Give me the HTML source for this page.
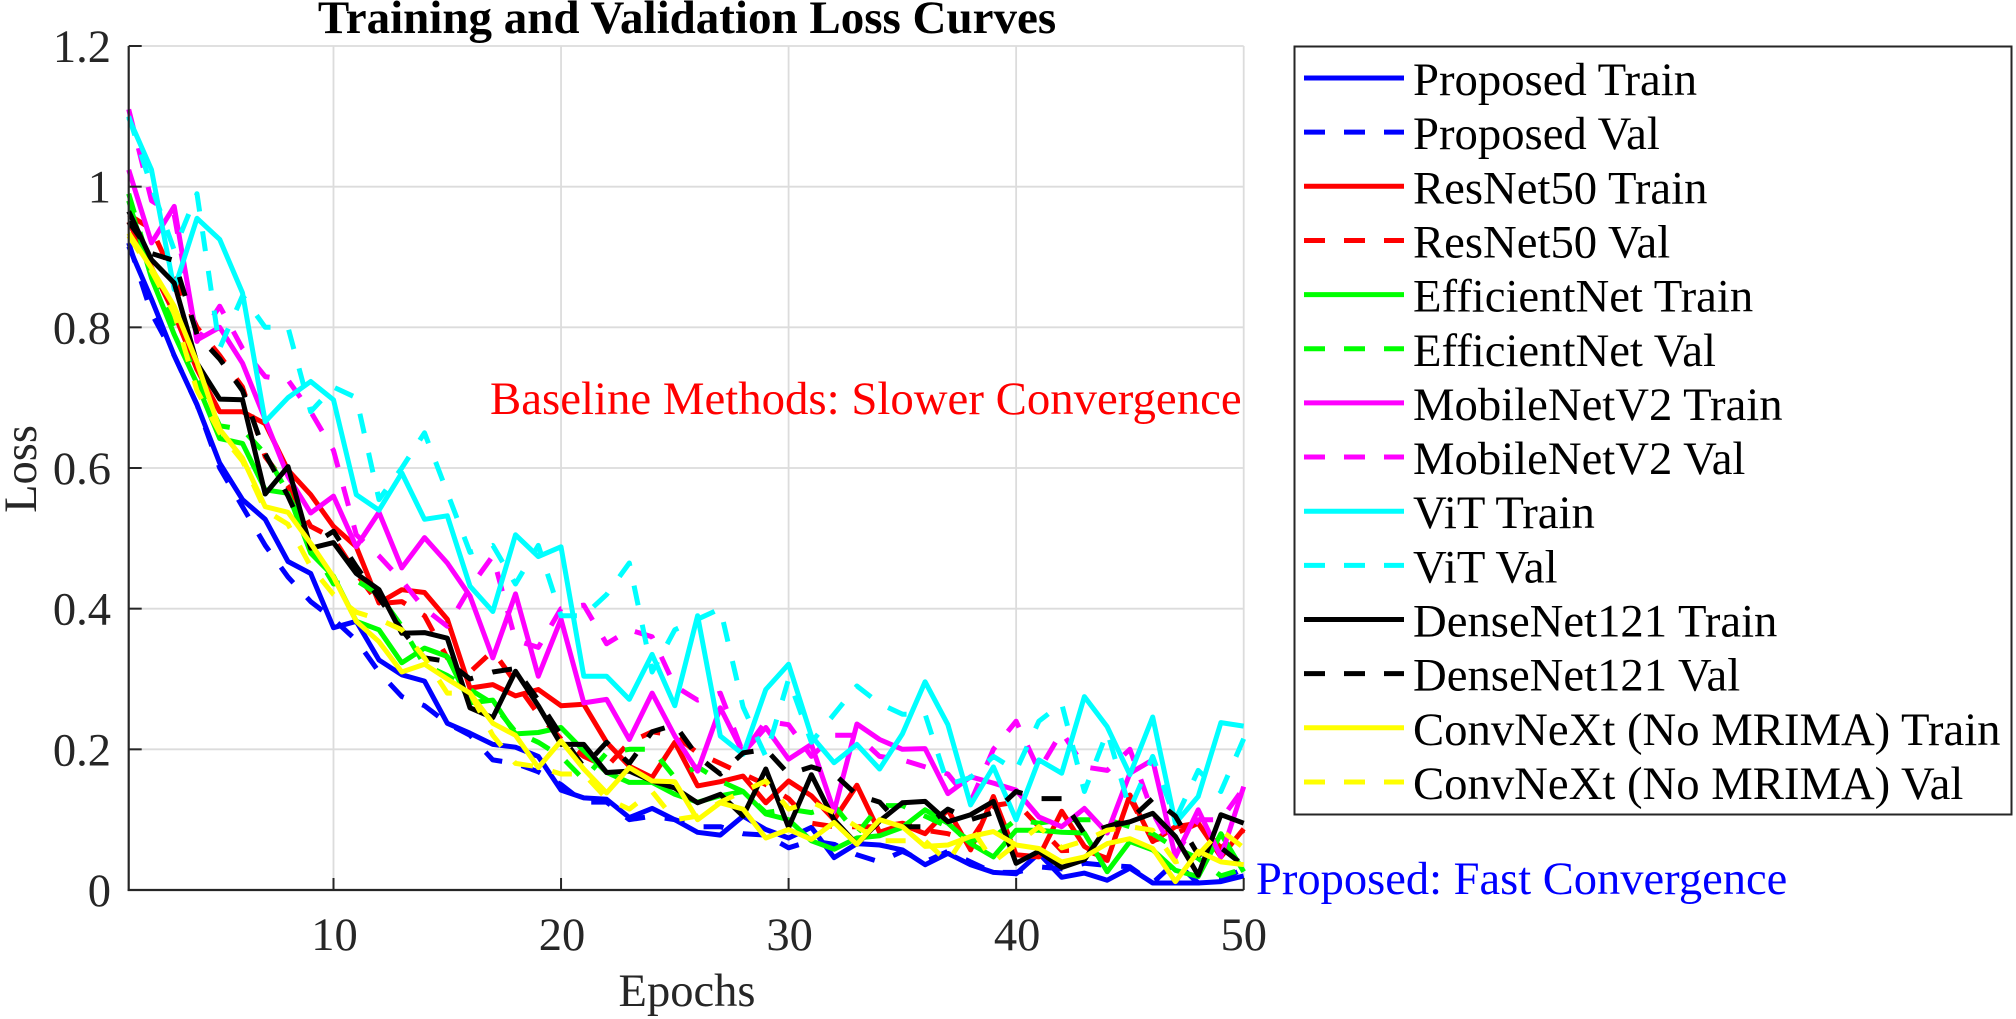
<!DOCTYPE html>
<html lang="en">
<head>
<meta charset="utf-8">
<title>Training and Validation Loss Curves</title>
<style>
  html, body { margin: 0; padding: 0; background: #fff; }
  svg { display: block; }
  text { font-family: "Liberation Serif", serif; }
</style>
</head>
<body>
<svg id="chart" xmlns="http://www.w3.org/2000/svg" width="2016" height="1019" viewBox="0 0 2016 1019">
  <rect x="0" y="0" width="2016" height="1019" fill="#ffffff"/>
  <text x="687" y="33" font-size="47" font-weight="bold" text-anchor="middle" fill="#000">Training and Validation Loss Curves</text>
  <g id="grid"></g>
  <g id="series"></g>
  <g id="axes"></g>
  <text x="687" y="1006" font-size="46.5" text-anchor="middle" fill="#262626">Epochs</text>
  <text x="0" y="0" font-size="46.5" text-anchor="middle" fill="#262626" transform="translate(36 469) rotate(-90)">Loss</text>
  <text x="490" y="414" font-size="46.8" fill="#ff0000">Baseline Methods: Slower Convergence</text>
  <text x="1256" y="894" font-size="46.5" fill="#0000ff">Proposed: Fast Convergence</text>
  <g id="legend">
    <rect x="1294.5" y="46.5" width="717" height="768" fill="#ffffff" stroke="#262626" stroke-width="2"/>
  </g>
</svg>
<script>
// ---- chart data ----
const xTicks = [10, 20, 30, 40, 50];
const yTicks = [0, 0.2, 0.4, 0.6, 0.8, 1, 1.2];
const yTickLabels = ["0", "0.2", "0.4", "0.6", "0.8", "1", "1.2"];

const proposedTrain = [.915,.84,.76,.69,.607,.555,.527,.467,.45,.373,.382,.327,.306,.297,.237,.223,.207,.203,.19,.142,.131,.129,.103,.116,.10,.082,.078,.105,.086,.074,.089,.046,.066,.064,.057,.036,.052,.036,.025,.023,.052,.018,.024,.014,.031,.01,.01,.01,.012,.02];
const proposedVal = [.92,.82,.76,.69,.60,.545,.49,.445,.41,.385,.355,.31,.275,.262,.237,.22,.185,.18,.168,.15,.125,.125,.10,.105,.10,.09,.09,.08,.078,.06,.07,.065,.05,.04,.055,.04,.055,.04,.025,.025,.033,.03,.038,.035,.033,.01,.04,.01,.015,.03];
const resnetTrain = [.95,.885,.82,.74,.68,.68,.663,.597,.562,.517,.488,.408,.427,.423,.385,.287,.292,.276,.285,.262,.264,.21,.176,.16,.21,.148,.154,.162,.124,.155,.134,.10,.149,.082,.093,.08,.114,.057,.133,.05,.047,.112,.062,.042,.135,.069,.09,.095,.047,.087];
const resnetVal = [.96,.94,.87,.80,.76,.715,.616,.574,.517,.50,.45,.407,.41,.39,.33,.31,.34,.295,.25,.215,.19,.175,.21,.225,.22,.195,.18,.165,.15,.13,.095,.09,.09,.09,.095,.085,.08,.07,.12,.125,.09,.056,.057,.045,.13,.07,.08,.095,.06,.085];
const efficientTrain = [.98,.87,.79,.72,.642,.635,.569,.564,.479,.446,.382,.37,.323,.344,.332,.266,.27,.222,.224,.231,.198,.167,.153,.153,.136,.125,.134,.14,.108,.10,.07,.058,.074,.077,.089,.114,.095,.066,.047,.085,.085,.082,.081,.026,.069,.057,.028,.019,.08,.026];
const efficientVal = [.99,.88,.80,.73,.66,.655,.62,.565,.49,.435,.44,.42,.375,.32,.305,.285,.265,.225,.21,.19,.157,.195,.20,.20,.16,.175,.155,.14,.11,.115,.11,.12,.08,.12,.12,.105,.09,.07,.075,.10,.095,.10,.10,.10,.09,.08,.06,.045,.02,.03];
const mobileTrain = [1.024,.92,.972,.782,.80,.749,.669,.588,.536,.56,.488,.537,.458,.501,.465,.418,.33,.421,.304,.385,.266,.271,.214,.28,.219,.169,.259,.195,.231,.186,.207,.112,.236,.214,.2,.201,.137,.161,.152,.142,.104,.09,.116,.081,.166,.185,.047,.114,.047,.147];
const mobileVal = [1.11,.98,.96,.78,.83,.77,.73,.725,.68,.625,.505,.475,.44,.40,.375,.43,.475,.355,.345,.40,.405,.35,.37,.36,.29,.27,.28,.195,.24,.235,.19,.22,.22,.19,.185,.175,.165,.125,.20,.24,.17,.225,.175,.17,.20,.11,.05,.10,.10,.145];
const vitTrain = [1.098,1.024,.854,.955,.925,.849,.666,.70,.723,.697,.562,.54,.593,.527,.532,.432,.396,.505,.474,.488,.304,.304,.271,.335,.262,.39,.219,.193,.285,.321,.219,.181,.207,.172,.222,.296,.235,.121,.175,.10,.185,.166,.275,.232,.164,.246,.095,.133,.238,.233];
const vitVal = [1.10,1.0,.91,.99,.77,.845,.80,.80,.68,.715,.70,.555,.60,.65,.565,.48,.49,.435,.49,.39,.39,.42,.465,.31,.37,.385,.40,.26,.19,.30,.21,.25,.29,.265,.25,.25,.15,.16,.19,.17,.24,.265,.14,.225,.115,.19,.10,.17,.14,.215];
const denseTrain = [.965,.896,.863,.749,.698,.697,.563,.602,.486,.494,.45,.427,.365,.366,.358,.259,.245,.311,.262,.207,.207,.167,.169,.155,.145,.124,.136,.105,.172,.089,.164,.10,.065,.098,.124,.126,.097,.107,.126,.038,.055,.032,.043,.09,.097,.109,.076,.021,.107,.095];
const denseVal = [.95,.905,.895,.79,.755,.71,.62,.56,.49,.51,.46,.415,.37,.33,.325,.30,.31,.315,.27,.22,.175,.21,.18,.225,.235,.19,.165,.195,.20,.165,.175,.165,.135,.125,.09,.09,.115,.10,.11,.14,.13,.13,.08,.09,.10,.13,.105,.05,.06,.035];
const convnextTrain = [.934,.884,.83,.75,.655,.614,.545,.537,.493,.445,.382,.353,.31,.321,.30,.28,.237,.22,.174,.212,.172,.138,.174,.155,.154,.10,.124,.115,.074,.086,.072,.096,.065,.10,.09,.062,.064,.076,.083,.064,.059,.04,.047,.066,.073,.059,.012,.055,.04,.036];
const convnextVal = [.93,.88,.82,.71,.65,.61,.54,.52,.46,.42,.395,.385,.37,.33,.28,.28,.22,.18,.175,.165,.165,.13,.115,.14,.10,.105,.125,.14,.155,.115,.125,.11,.09,.07,.07,.07,.04,.09,.04,.065,.09,.06,.07,.085,.09,.085,.04,.05,.085,.06];

const seriesValues = [proposedTrain, proposedVal, resnetTrain, resnetVal, efficientTrain, efficientVal, mobileTrain, mobileVal, vitTrain, vitVal, denseTrain, denseVal, convnextTrain, convnextVal];
const seriesNames = ["Proposed Train", "Proposed Val", "ResNet50 Train", "ResNet50 Val", "EfficientNet Train", "EfficientNet Val", "MobileNetV2 Train", "MobileNetV2 Val", "ViT Train", "ViT Val", "DenseNet121 Train", "DenseNet121 Val", "ConvNeXt (No MRIMA) Train", "ConvNeXt (No MRIMA) Val"];
const seriesColors = ["#0000ff", "#0000ff", "#ff0000", "#ff0000", "#00ff00", "#00ff00", "#ff00ff", "#ff00ff", "#00ffff", "#00ffff", "#000000", "#000000", "#ffff00", "#ffff00"];

// ---- axis functions ----
const plot = { left: 128.7, right: 1243.7, top: 46, bottom: 890 };
const xMin = 1, xMax = 50, yMin = 0, yMax = 1.2;
function xScale(v) { return plot.left + (v - xMin) / (xMax - xMin) * (plot.right - plot.left); }
function yScale(v) { return plot.bottom - (v - yMin) / (yMax - yMin) * (plot.bottom - plot.top); }

const NS = "http://www.w3.org/2000/svg";
function mk(tag, attrs, parent) {
  const el = document.createElementNS(NS, tag);
  for (const k in attrs) el.setAttribute(k, attrs[k]);
  parent.appendChild(el);
  return el;
}
function slug(s) { return s.toLowerCase().replace(/[^a-z0-9]+/g, '-').replace(/^-|-$/g, ''); }

const gridG = document.getElementById('grid');
const seriesG = document.getElementById('series');
const axesG = document.getElementById('axes');
const legendG = document.getElementById('legend');

// grid
xTicks.forEach(function (t) {
  const el = mk('line', { x1: xScale(t), x2: xScale(t), y1: plot.top, y2: plot.bottom, stroke: '#dcdcdc', 'stroke-width': 1.8 }, gridG);
  
  
});
yTicks.forEach(function (t) {
  if (t === 0) return;
  const el = mk('line', { x1: plot.left, x2: plot.right, y1: yScale(t), y2: yScale(t), stroke: '#dcdcdc', 'stroke-width': 1.8 }, gridG);
  
  
});

// series
seriesValues.forEach(function (vals, i) {
  const pts = vals.map(function (v, k) { return xScale(k + 1).toFixed(1) + ',' + yScale(v).toFixed(1); }).join(' ');
  const attrs = { points: pts, fill: 'none', stroke: seriesColors[i], 'stroke-width': 5, 'stroke-linejoin': 'round' };
  if (i % 2 === 1) attrs['stroke-dasharray'] = '20 20';
  const el = mk('polyline', attrs, seriesG);
  
  
});

// axes
const xAxisLine = mk('line', { x1: plot.left - 1, x2: plot.right, y1: plot.bottom, y2: plot.bottom, stroke: '#262626', 'stroke-width': 2.2 }, axesG);


const yAxisLine = mk('line', { x1: plot.left, x2: plot.left, y1: plot.top, y2: plot.bottom + 1, stroke: '#262626', 'stroke-width': 2.2 }, axesG);



xTicks.forEach(function (t) {
  const tick = mk('line', { x1: xScale(t), x2: xScale(t), y1: plot.bottom, y2: plot.bottom - 12, stroke: '#262626', 'stroke-width': 2 }, axesG);
  
  
  const label = mk('text', { x: xScale(t) + (t === 50 ? 0 : 1), y: 950, 'font-size': 46.5, 'text-anchor': 'middle', fill: '#262626' }, axesG);
  label.textContent = String(t);
  
  
});
yTicks.forEach(function (t, i) {
  const tick = mk('line', { x1: plot.left, x2: plot.left + 13, y1: yScale(t), y2: yScale(t), stroke: '#262626', 'stroke-width': 2 }, axesG);
  
  
  const label = mk('text', { x: 111, y: yScale(t) + 16, 'font-size': 46.5, 'text-anchor': 'end', fill: '#262626' }, axesG);
  label.textContent = yTickLabels[i];
  
  
});

// legend
seriesNames.forEach(function (name, i) {
  const cy = 78 + i * 54.15;
  const attrs = { x1: 1304, x2: 1404, y1: cy, y2: cy, stroke: seriesColors[i], 'stroke-width': 5 };
  if (i % 2 === 1) attrs['stroke-dasharray'] = '21 19';
  const swatch = mk('line', attrs, legendG);
  
  
  const label = mk('text', { x: 1413, y: cy + 17, 'font-size': 46.7, fill: '#000000' }, legendG);
  label.textContent = name;
  
  
});
</script>
</body>
</html>
